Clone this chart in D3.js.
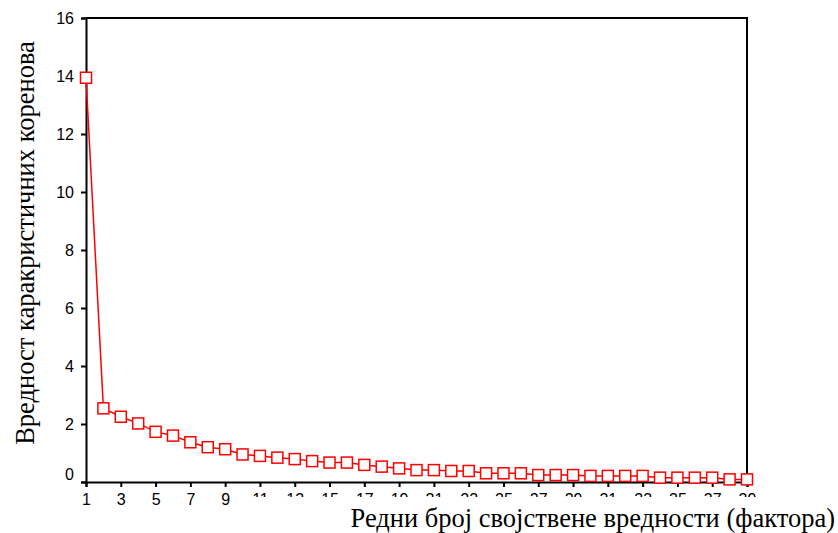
<!DOCTYPE html>
<html lang="sr">
<head>
<meta charset="UTF-8">
<title>Scree plot</title>
<script src="https://cdnjs.cloudflare.com/ajax/libs/d3/7.8.5/d3.min.js"></script>
<style>
    body { margin: 0; background: #fff; }
    svg { display: block; }
    .tick text { font-family: "Liberation Sans", Arial, sans-serif; font-size: 16px; fill: #000; }
    .title { font-family: "Liberation Serif", "Times New Roman", serif; font-size: 26.5px; fill: #000; }
</style>
</head>
<body>
<svg width="838" height="533"></svg>
<script>
    // eigenvalue number and value
    const factors = d3.range(1, 40);
    const eigenvalues = [
        13.94, 2.54, 2.25, 2.02, 1.73, 1.60, 1.37, 1.20, 1.13, 0.95,
        0.90, 0.84, 0.79, 0.72, 0.67, 0.67, 0.59, 0.53, 0.47, 0.41,
        0.41, 0.38, 0.38, 0.30, 0.30, 0.30, 0.24, 0.24, 0.24, 0.21,
        0.21, 0.21, 0.21, 0.15, 0.15, 0.15, 0.15, 0.09, 0.09
    ];
    const xTicks = d3.range(1, 40, 2);
    const yTicks = d3.range(0, 17, 2);
    const xTitle = "Редни број својствене вредности (фактора)";
    const yTitle = "Вредност каракристичних коренова";

    const data = factors.map((f, i) => ({ f: f, v: eigenvalues[i] }));

    const svg = d3.select("svg");
    const plot = { left: 86, right: 747, top: 18, bottom: 482 };

    const x = d3.scaleLinear().domain([1, 39]).range([plot.left, plot.right]);
    const y = d3.scaleLinear().domain([0, 16]).range([plot.bottom, plot.top]);

    // frame (top and right)
    svg.append("path")
        .attr("d", `M${plot.left},${plot.top}H${plot.right}V${plot.bottom}`)
        .attr("fill", "none")
        .attr("stroke", "#000")
        .attr("stroke-width", 2);

    // y axis
    const gy = svg.append("g")
        .attr("transform", `translate(${plot.left},0)`)
        .call(d3.axisLeft(y).tickValues(yTicks).tickSize(5).tickPadding(7).tickFormat(d3.format("d")));
    gy.select(".domain").attr("stroke-width", 2);
    gy.selectAll(".tick line").attr("stroke-width", 2);
    gy.selectAll(".tick text").filter(d => d === 0).attr("dy", "-0.18em");

    // x axis
    const gx = svg.append("g")
        .attr("transform", `translate(0,${plot.bottom})`)
        .call(d3.axisBottom(x).tickValues(xTicks).tickSize(5).tickPadding(7).tickFormat(d3.format("d")));
    gx.select(".domain").attr("stroke-width", 2);
    gx.selectAll(".tick line").attr("stroke-width", 2);

    // labels from 11 on are cut off at y=497, like in the original
    gx.selectAll(".tick").filter(d => d >= 11).each(function (d) {
        const id = "clip-" + d;
        svg.append("clipPath").attr("id", id)
            .append("rect").attr("x", -20).attr("y", -10).attr("width", 40).attr("height", 497 - plot.bottom + 10);
        d3.select(this).attr("clip-path", `url(#${id})`);
    });

    // line and markers
    svg.append("path")
        .datum(data)
        .attr("fill", "none")
        .attr("stroke", "#ff0000")
        .attr("stroke-width", 1.5)
        .attr("d", d3.line().x(d => x(d.f)).y(d => y(d.v)));

    svg.append("g")
        .selectAll("rect")
        .data(data)
        .join("rect")
        .attr("x", d => x(d.f) - 5.5)
        .attr("y", d => y(d.v) - 5.5)
        .attr("width", 11)
        .attr("height", 11)
        .attr("fill", "#fff")
        .attr("stroke", "#ff0000")
        .attr("stroke-width", 1.5);

    svg.append("text")
        .attr("class", "title")
        .attr("x", 835).attr("y", 527)
        .attr("text-anchor", "end")
        .text(xTitle);

    svg.append("text")
        .attr("class", "title")
        .attr("transform", "translate(34,243) rotate(-90)")
        .attr("text-anchor", "middle")
        .text(yTitle);
</script>
</body>
</html>
